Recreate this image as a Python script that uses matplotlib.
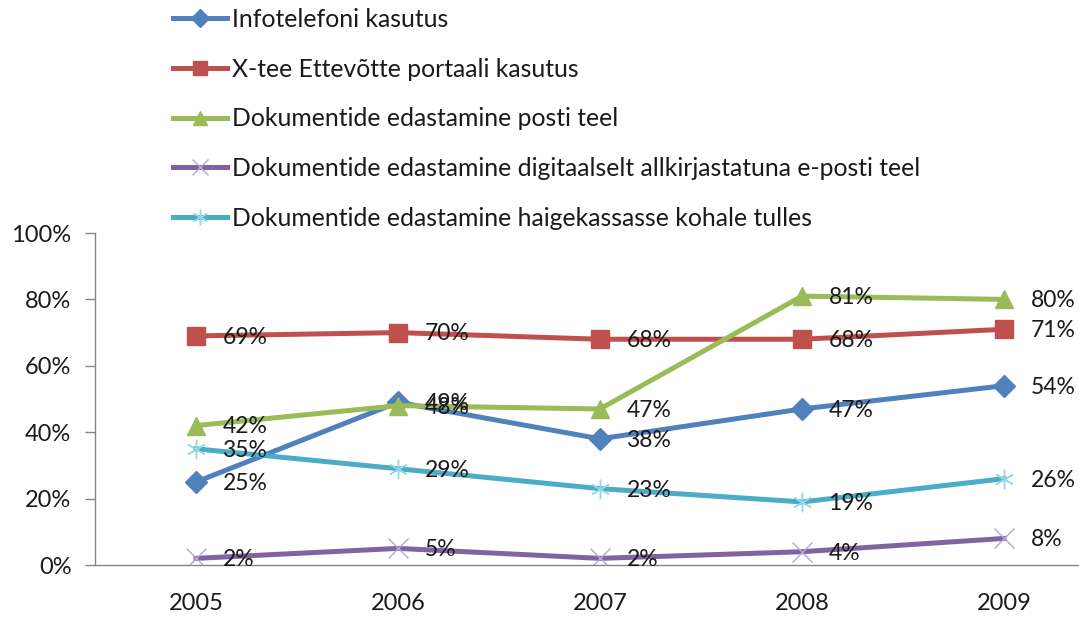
import matplotlib
matplotlib.use("Agg")
import matplotlib.pyplot as plt
from matplotlib.ticker import FuncFormatter

plt.rcParams['font.family'] = ['Lato', 'DejaVu Sans']

# Andmed
aastad = ['2005', '2006', '2007', '2008', '2009']
nimed = [
    'Infotelefoni kasutus',
    'X-tee Ettevõtte portaali kasutus',
    'Dokumentide edastamine posti teel',
    'Dokumentide edastamine digitaalselt allkirjastatuna e-posti teel',
    'Dokumentide edastamine haigekassasse kohale tulles',
]
infotelefon = [25, 49, 38, 47, 54]
xtee = [69, 70, 68, 68, 71]
posti = [42, 48, 47, 81, 80]
digiallkiri = [2, 5, 2, 4, 8]
kohale = [35, 29, 23, 19, 26]

read = [infotelefon, xtee, posti, digiallkiri, kohale]
varvid = ['#4F81BD', '#C0504D', '#9BBB59', '#8064A2', '#4BACC6']
markerid = ['D', 's', '^', 'x', (6, 2, 0)]
markeri_suurus = [11, 13, 13, 14, 14]
markeri_varv = ['#4F81BD', '#C0504D', '#9BBB59', '#B7A6D1', '#93D6E8']

fig = plt.figure(figsize=(10.79, 6.19), dpi=100)
ax = fig.add_axes([95/1079, 54/619, 1010/1079, 332/619])

x = list(range(len(aastad)))
joonised = []
for y, nimi, c, m, ms, mc in zip(read, nimed, varvid, markerid, markeri_suurus, markeri_varv):
    if m in ('x', (6, 2, 0)):
        ln, = ax.plot(x, y, color=c, lw=3.6, marker=m, ms=ms,
                      markeredgecolor=mc, markeredgewidth=1.0, label=nimi)
    else:
        ln, = ax.plot(x, y, color=c, lw=3.6, marker=m, ms=ms,
                      markerfacecolor=c, markeredgecolor=c, label=nimi)
    joonised.append(ln)
    for xi, yi in zip(x, y):
        ax.annotate(f'{yi}%', (xi, yi), xytext=(19, -1), textcoords='offset points',
                    ha='left', va='center', fontsize=16.5, color='#1a1a1a')

ax.set_xlim(-0.5, 4.5)
ax.set_ylim(0, 100)
ax.set_yticks([0, 20, 40, 60, 80, 100])
ax.yaxis.set_major_formatter(FuncFormatter(lambda v, p: f'{int(v)}%'))
ax.set_xticks(x)
ax.set_xticklabels(aastad)
ax.tick_params(axis='x', length=0, pad=20, labelsize=17, colors='#1a1a1a')
ax.tick_params(axis='y', length=7, width=1, color='#868686', pad=10,
               labelsize=17, labelcolor='#1a1a1a')
for s in ['top', 'right']:
    ax.spines[s].set_visible(False)
for s in ['left', 'bottom']:
    ax.spines[s].set_color('#868686')
    ax.spines[s].set_linewidth(1)

leg = fig.legend(handles=joonised, loc='upper left', bbox_to_anchor=(173/1079, 1 - 8/619),
                 frameon=False, fontsize=17.8, handlelength=2.2, handletextpad=0.2,
                 labelspacing=1.08, borderaxespad=0, borderpad=0, markerscale=0.8)
for t in leg.get_texts():
    t.set_color('#1a1a1a')

fig.savefig('out.png', dpi=100)
